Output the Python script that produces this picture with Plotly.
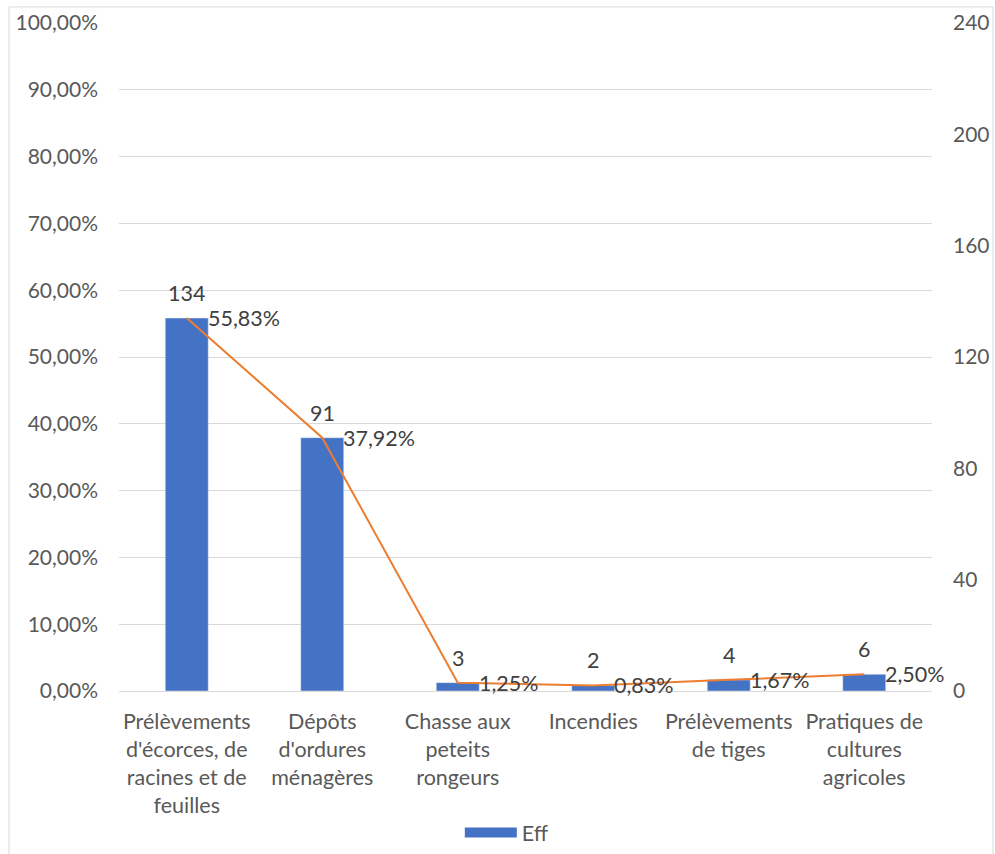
import plotly.graph_objects as go

categories = [
    "Prélèvements<br>d'écorces, de<br>racines et de<br>feuilles",
    "Dépôts<br>d'ordures<br>ménagères",
    "Chasse aux<br>peteits<br>rongeurs",
    "Incendies",
    "Prélèvements<br>de tiges",
    "Pratiques de<br>cultures<br>agricoles",
]
eff = [134, 91, 3, 2, 4, 6]
pct = [0.5583, 0.3792, 0.0125, 0.0083, 0.0167, 0.0250]
pct_labels = ["55,83%", "37,92%", "1,25%", "0,83%", "1,67%", "2,50%"]

FONT = "Lato"
AXIS_COL = "#595959"
LABEL_COL = "#404040"
BLUE = "#4472C4"
ORANGE = "#ED7D31"
TICK_SIZE = 21
LABEL_SIZE = 21.5

fig = go.Figure()
fig.add_trace(go.Bar(x=categories, y=eff, yaxis="y2", marker_color=BLUE,
                     width=0.317, showlegend=False, name="Eff"))
fig.add_trace(go.Scatter(x=categories, y=pct, yaxis="y", mode="lines",
                         line=dict(color=ORANGE, width=2), showlegend=False))
# legend proxy (wide rectangle like the original)
fig.add_trace(go.Scatter(x=[None], y=[None], mode="lines", name="Eff",
                         line=dict(color=BLUE, width=12), showlegend=True))

annotations = []
for c, v in zip(categories, eff):
    annotations.append(dict(x=c, y=v, xref="x", yref="y2", text=str(v),
                            showarrow=False, yanchor="middle", yshift=25,
                            font=dict(family=FONT, size=LABEL_SIZE, color=LABEL_COL)))
for c, v, t in zip(categories, pct, pct_labels):
    annotations.append(dict(x=c, y=v, xref="x", yref="y", text=t,
                            showarrow=False, xanchor="left", yanchor="middle",
                            xshift=19, yshift=0,
                            font=dict(family=FONT, size=LABEL_SIZE, color=LABEL_COL)))

fig.update_layout(
    width=995, height=854,
    margin=dict(l=119, r=63, t=23, b=163, autoexpand=False),
    paper_bgcolor="white", plot_bgcolor="white",
    separators=", ",
    font=dict(family=FONT, size=TICK_SIZE, color=AXIS_COL),
    xaxis=dict(type="category", range=[-0.5, len(categories) - 0.5],
               autorange=False, showgrid=False, showline=True,
               linecolor="#D9D9D9", linewidth=1, ticks="", automargin=False,
               ticklabelstandoff=11,
               tickfont=dict(family=FONT, size=LABEL_SIZE, color=AXIS_COL)),
    yaxis2=dict(range=[0, 240], dtick=40, side="right", showgrid=False,
                showline=False, zeroline=False, ticks="", automargin=False,
                ticklabelstandoff=20,
                tickfont=dict(family=FONT, size=TICK_SIZE, color=AXIS_COL)),
    yaxis=dict(range=[0, 1], dtick=0.1, tickformat=".2%", side="left",
               overlaying="y2", showgrid=True, gridcolor="#D9D9D9",
               gridwidth=1, zeroline=False, showline=False, ticks="",
               automargin=False, ticklabelstandoff=20,
               tickfont=dict(family=FONT, size=TICK_SIZE, color=AXIS_COL)),
    legend=dict(orientation="h", x=0.477, xanchor="center", y=-0.212,
                yanchor="middle", itemwidth=52,
                font=dict(family=FONT, size=LABEL_SIZE, color=AXIS_COL)),
    annotations=annotations,
    shapes=[dict(type="rect", xref="paper", yref="paper",
                 x0=-0.1353, x1=1.075, y0=-0.35, y1=1.024,
                 line=dict(color="#D9D9D9", width=1), layer="below")],
)

fig.write_html("out.html", config={"displayModeBar": False},
               post_script="document.body.style.margin='0';")
